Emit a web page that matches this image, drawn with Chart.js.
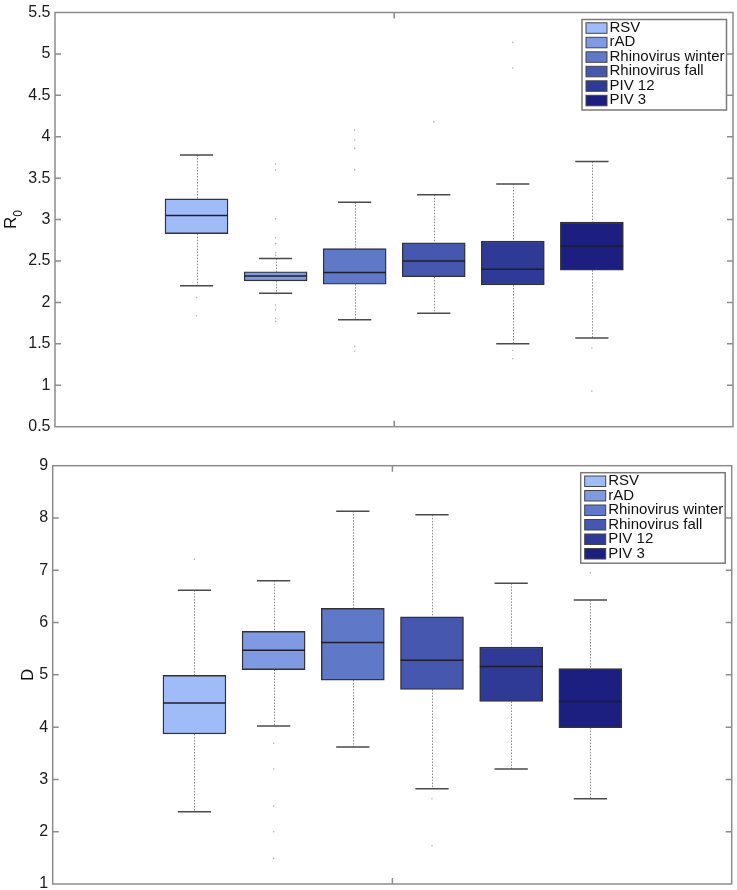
<!DOCTYPE html>
<html>
<head>
<meta charset="utf-8">
<script src="https://cdn.jsdelivr.net/npm/chart.js@4"></script>
<style>
  html, body { margin: 0; padding: 0; background: #fff; width: 737px; height: 890px; overflow: hidden; }
  canvas { position: absolute; left: 0; }
  #r0Chart { top: 0; }
  #dChart { top: 440px; }
</style>
</head>
<body>
<canvas id="r0Chart" width="737" height="440"></canvas>
<canvas id="dChart" width="737" height="460"></canvas>
<script>
const viruses = ['RSV', 'rAD', 'Rhinovirus winter', 'Rhinovirus fall', 'PIV 12', 'PIV 3'];
const boxColors = ['#a0bcf8', '#7f9ae2', '#6078c8', '#4557ae', '#2e3a96', '#1c1f80'];

// R0 : whiskers, quartiles, median, outliers
const r0Low = [2.20, 2.11, 1.79, 1.87, 1.50, 1.57];
const r0Q1 = [2.83, 2.26, 2.22, 2.31, 2.21, 2.39];
const r0Median = [3.05, 2.32, 2.36, 2.50, 2.40, 2.68];
const r0Q3 = [3.25, 2.37, 2.65, 2.72, 2.74, 2.97];
const r0High = [3.78, 2.53, 3.21, 3.30, 3.43, 3.70];
const r0Outliers = [
  [2.06, 1.84],
  [3.67, 3.60, 3.01, 2.78, 2.71, 2.60, 2.57, 1.97, 1.91, 1.81, 1.77],
  [4.08, 3.96, 3.86, 3.60, 1.47, 1.41],
  [4.18],
  [5.14, 4.83, 1.42, 1.32],
  [1.45, 0.93]
];
const r0Ticks = [0.5, 1, 1.5, 2, 2.5, 3, 3.5, 4, 4.5, 5, 5.5];

// D
const dLow = [2.38, 4.02, 3.62, 2.82, 3.20, 2.63];
const dQ1 = [3.87, 5.10, 4.90, 4.72, 4.49, 3.99];
const dMedian = [4.46, 5.47, 5.62, 5.28, 5.16, 4.49];
const dQ3 = [4.99, 5.83, 6.27, 6.11, 5.53, 5.12];
const dHigh = [6.62, 6.80, 8.13, 8.06, 6.75, 6.43];
const dOutliers = [
  [7.21],
  [3.69, 3.20, 2.49, 2.00, 1.49],
  [],
  [2.63, 1.73],
  [],
  [6.95]
];
const dTicks = [1, 2, 3, 4, 5, 6, 7, 8, 9];

const FONT = '"Liberation Sans", Arial, Helvetica, sans-serif';
const frameColor = '#8c8c8c';

function drawYTitle(ctx, area, text, sub, baseX) {
  const cy = (area.top + area.bottom) / 2;
  ctx.save();
  ctx.translate(baseX, cy);
  ctx.rotate(-Math.PI / 2);
  ctx.fillStyle = '#111';
  ctx.textBaseline = 'alphabetic';
  ctx.font = '17px ' + FONT;
  const w = ctx.measureText(text).width;
  ctx.font = '12px ' + FONT;
  const sw = sub ? ctx.measureText(sub).width : 0;
  const start = -(w + sw) / 2;
  ctx.font = '17px ' + FONT;
  ctx.textAlign = 'left';
  ctx.fillText(text, start, 0);
  if (sub) {
    ctx.font = '12px ' + FONT;
    ctx.fillText(sub, start + w, 6);
  }
  ctx.restore();
}

function boxChart(canvasId, low, q1, median, q3, high, outliers, ticks, yWidth, pad, title, sub, titleX) {
  const boxes = q1.map((q, i) => ({ x: i + 1, y: [q, q3[i]] }));
  const outlierPts = [];
  outliers.forEach((list, i) => list.forEach(v => outlierPts.push({ x: i + 1, y: v })));

  const boxExtras = {
    id: 'boxExtras',
    beforeDatasetsDraw(chart) {
      const { ctx, scales: { x, y } } = chart;
      ctx.save();
      // dotted whiskers
      ctx.strokeStyle = '#8a8a8a';
      ctx.lineWidth = 1;
      ctx.setLineDash([1.5, 1.5]);
      low.forEach((lo, i) => {
        const px = Math.round(x.getPixelForValue(i + 1)) + 0.5;
        ctx.beginPath();
        ctx.moveTo(px, y.getPixelForValue(high[i]));
        ctx.lineTo(px, y.getPixelForValue(q3[i]));
        ctx.moveTo(px, y.getPixelForValue(q1[i]));
        ctx.lineTo(px, y.getPixelForValue(lo));
        ctx.stroke();
      });
      ctx.setLineDash([]);
      // whisker caps
      ctx.strokeStyle = '#4a4a4a';
      ctx.lineWidth = 1.5;
      low.forEach((lo, i) => {
        const x0 = x.getPixelForValue(i + 1 - 0.21);
        const x1 = x.getPixelForValue(i + 1 + 0.21);
        [lo, high[i]].forEach(v => {
          const py = y.getPixelForValue(v);
          ctx.beginPath();
          ctx.moveTo(x0, py);
          ctx.lineTo(x1, py);
          ctx.stroke();
        });
      });
      ctx.restore();
    },
    afterDatasetsDraw(chart) {
      const { ctx, scales: { x, y } } = chart;
      ctx.save();
      ctx.strokeStyle = '#1e1e2a';
      ctx.lineWidth = 1.5;
      median.forEach((m, i) => {
        const py = y.getPixelForValue(m);
        ctx.beginPath();
        ctx.moveTo(x.getPixelForValue(i + 1 - 0.395), py);
        ctx.lineTo(x.getPixelForValue(i + 1 + 0.395), py);
        ctx.stroke();
      });
      ctx.restore();
    },
    afterDraw(chart) {
      const { ctx, chartArea: a, scales: { x, y } } = chart;
      ctx.save();
      // axes frame
      ctx.strokeStyle = frameColor;
      ctx.lineWidth = 1.5;
      ctx.strokeRect(a.left, a.top, a.right - a.left, a.bottom - a.top);
      // inward ticks
      ctx.beginPath();
      ticks.slice(1, -1).forEach(t => {
        const py = y.getPixelForValue(t);
        ctx.moveTo(a.left, py); ctx.lineTo(a.left + 6, py);
        ctx.moveTo(a.right, py); ctx.lineTo(a.right - 6, py);
      });
      const mx = x.getPixelForValue(3.5);
      ctx.moveTo(mx, a.top); ctx.lineTo(mx, a.top + 6);
      ctx.moveTo(mx, a.bottom); ctx.lineTo(mx, a.bottom - 6);
      ctx.stroke();

      // legend
      const lx = a.right - 151, ly = a.top + 7, lw = 144.5, lh = 90.5;
      ctx.fillStyle = '#fff';
      ctx.fillRect(lx, ly, lw, lh);
      ctx.strokeStyle = '#7a7a7a';
      ctx.lineWidth = 1.5;
      ctx.strokeRect(lx, ly, lw, lh);
      ctx.font = '15px ' + FONT;
      ctx.textBaseline = 'alphabetic';
      ctx.textAlign = 'left';
      viruses.forEach((name, i) => {
        const sy = ly + 3.3 + i * 14.5;
        ctx.fillStyle = boxColors[i];
        ctx.fillRect(lx + 4, sy, 21, 10.5);
        ctx.strokeStyle = '#444';
        ctx.lineWidth = 1;
        ctx.strokeRect(lx + 4, sy, 21, 10.5);
        ctx.fillStyle = '#111';
        ctx.fillText(name, lx + 27.5, sy + 9);
      });
      ctx.restore();

      drawYTitle(ctx, a, title, sub, titleX);
    }
  };

  return new Chart(document.getElementById(canvasId), {
    type: 'bar',
    data: {
      datasets: [
        {
          type: 'bar',
          data: boxes,
          backgroundColor: boxColors,
          borderColor: '#333',
          borderWidth: 1.4,
          borderSkipped: false,
          barThickness: 63,
          order: 2
        },
        {
          type: 'scatter',
          data: outlierPts,
          pointRadius: 0.8,
          pointBackgroundColor: '#b0b0b0',
          pointBorderWidth: 0,
          order: 1
        }
      ]
    },
    options: {
      responsive: false,
      animation: false,
      events: [],
      layout: { padding: pad },
      plugins: { legend: { display: false }, tooltip: { enabled: false } },
      scales: {
        x: { type: 'linear', min: -0.79, max: 7.785, offset: false, display: false },
        y: {
          type: 'linear',
          min: ticks[0],
          max: ticks[ticks.length - 1],
          afterFit(sc) { sc.width = yWidth; },
          afterBuildTicks(sc) { sc.ticks = ticks.map(v => ({ value: v })); },
          grid: { display: false, drawTicks: false },
          border: { display: false },
          ticks: {
            color: '#1a1a1a',
            padding: 4.5,
            font: { family: FONT, size: 16, lineHeight: 1 },
            callback: v => String(v)
          }
        }
      }
    },
    plugins: [boxExtras]
  });
}

boxChart('r0Chart', r0Low, r0Q1, r0Median, r0Q3, r0High, r0Outliers, r0Ticks,
  55, { left: 0, top: 8.5, right: 2.7, bottom: 13.3 }, 'R', '0', 16);
boxChart('dChart', dLow, dQ1, dMedian, dQ3, dHigh, dOutliers, dTicks,
  52.7, { left: 0, top: 25.7, right: 5.3, bottom: 16 }, 'D', null, 33);
</script>
</body>
</html>
